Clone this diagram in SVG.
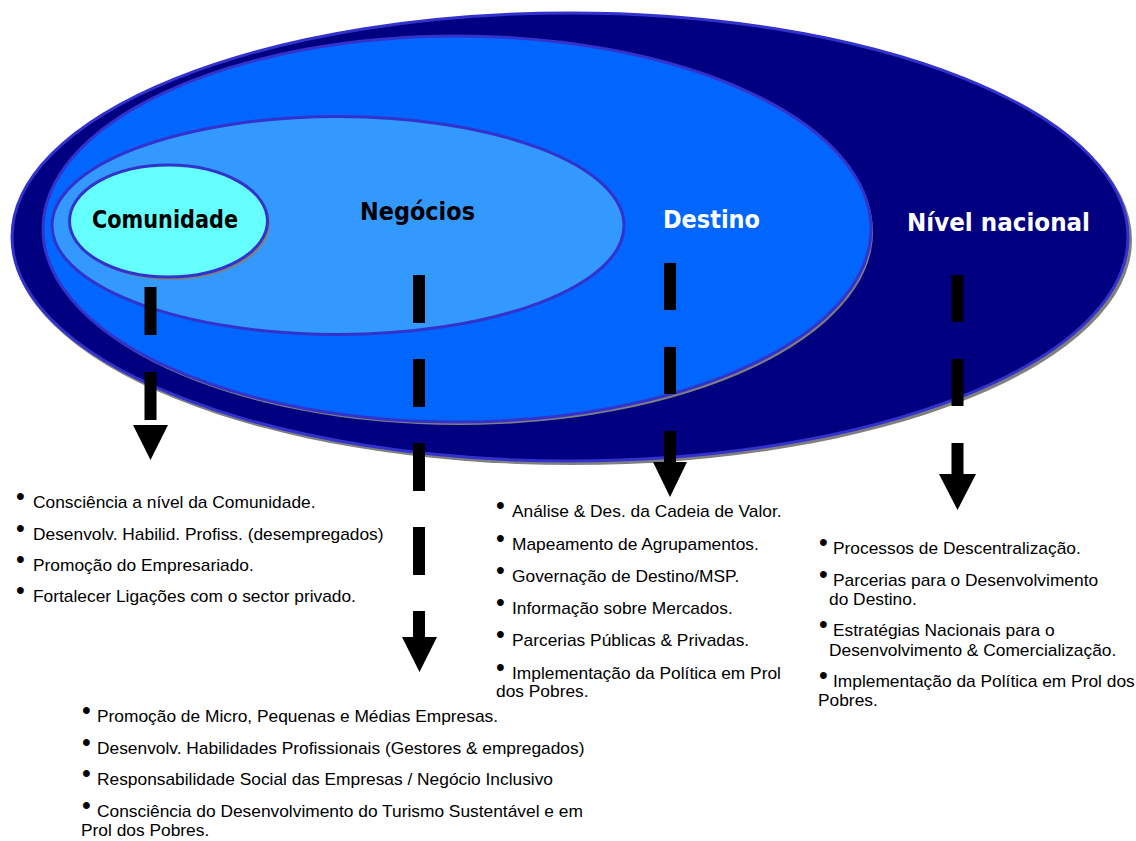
<svg xmlns="http://www.w3.org/2000/svg" width="1136" height="841" viewBox="0 0 1136 841">
<style>
.ell{stroke:#3333CC;stroke-width:3}
.sh{fill:#808080}
.lbl{font-family:"DejaVu Sans","Liberation Sans",sans-serif;font-weight:bold;font-size:25px}
.t{font-family:"Liberation Sans",Arial,sans-serif;font-size:17.35px;fill:#000}
.b{font-family:"Liberation Sans",Arial,sans-serif;font-size:25px;fill:#000}
.dash{stroke:#000;stroke-width:12;fill:none}
.head{fill:#000}
</style>
<rect width="1136" height="841" fill="#fff"/>
<g id="nivel-nacional">
<ellipse class="sh" cx="572" cy="240" rx="560" ry="225"/>
<ellipse class="ell" cx="570" cy="237" rx="558" ry="224" fill="#000080"/>
<text class="lbl" x="998.5" y="231" text-anchor="middle" fill="#fff" textLength="183" lengthAdjust="spacingAndGlyphs">Nível nacional</text>
</g>
<g id="destino">
<ellipse class="sh" cx="459" cy="232" rx="414" ry="193"/>
<ellipse class="ell" cx="457" cy="229" rx="414" ry="193" fill="#0066FF"/>
<text class="lbl" x="711.5" y="228" text-anchor="middle" fill="#fff" textLength="97" lengthAdjust="spacingAndGlyphs">Destino</text>
</g>
<g id="negocios">
<ellipse class="ell" cx="338" cy="225.5" rx="286" ry="109" fill="#3399FF"/>
<text class="lbl" x="417.5" y="220" text-anchor="middle" fill="#000" textLength="115" lengthAdjust="spacingAndGlyphs">Negócios</text>
</g>
<g id="comunidade">
<ellipse class="sh" cx="171" cy="224" rx="99" ry="56"/>
<ellipse class="ell" cx="168.5" cy="221" rx="99" ry="56" fill="#66FFFF"/>
<text class="lbl" x="165" y="228" text-anchor="middle" fill="#000" textLength="146" lengthAdjust="spacingAndGlyphs">Comunidade</text>
</g>
<g id="connectors">
<line class="dash" x1="150.5" y1="287" x2="150.5" y2="420" stroke-dasharray="48 37"/>
<polygon class="head" points="133,425 168,425 150.5,460"/>
<line class="dash" x1="419" y1="275" x2="419" y2="637" stroke-dasharray="48 36"/>
<polygon class="head" points="402,637 437,637 419.5,672"/>
<line class="dash" x1="670" y1="263" x2="670" y2="463" stroke-dasharray="47 37"/>
<polygon class="head" points="653,462 687,462 670,497"/>
<line class="dash" x1="957.5" y1="275" x2="957.5" y2="475" stroke-dasharray="47 37"/>
<polygon class="head" points="939,474 976,474 957.5,510"/>
</g>
<g id="list-comunidade">
<text class="b" x="16" y="505">•</text><text class="t" x="33" y="508">Consciência a nível da Comunidade.</text>
<text class="b" x="16" y="537">•</text><text class="t" x="33" y="540">Desenvolv. Habilid. Profiss. (desempregados)</text>
<text class="b" x="16" y="568">•</text><text class="t" x="33" y="571">Promoção do Empresariado.</text>
<text class="b" x="16" y="599">•</text><text class="t" x="33" y="602">Fortalecer Ligações com o sector privado.</text>
</g>
<g id="list-negocios">
<text class="b" x="82" y="719">•</text><text class="t" x="97" y="722">Promoção de Micro, Pequenas e Médias Empresas.</text>
<text class="b" x="82" y="751">•</text><text class="t" x="97" y="754">Desenvolv. Habilidades Profissionais (Gestores &amp; empregados)</text>
<text class="b" x="82" y="782">•</text><text class="t" x="97" y="785">Responsabilidade Social das Empresas / Negócio Inclusivo</text>
<text class="b" x="82" y="814">•</text><text class="t" x="97" y="817">Consciência do Desenvolvimento do Turismo Sustentável e em</text>
<text class="t" x="81" y="836">Prol dos Pobres.</text>
</g>
<g id="list-destino">
<text class="b" x="496" y="514">•</text><text class="t" x="512" y="517">Análise &amp; Des. da Cadeia de Valor.</text>
<text class="b" x="496" y="547">•</text><text class="t" x="512" y="550">Mapeamento de Agrupamentos.</text>
<text class="b" x="496" y="579">•</text><text class="t" x="512" y="582">Governação de Destino/MSP.</text>
<text class="b" x="496" y="611">•</text><text class="t" x="512" y="614">Informação sobre Mercados.</text>
<text class="b" x="496" y="643">•</text><text class="t" x="512" y="646">Parcerias Públicas &amp; Privadas.</text>
<text class="b" x="496" y="676">•</text><text class="t" x="512" y="679">Implementação da Política em Prol</text>
<text class="t" x="496" y="697">dos Pobres.</text>
</g>
<g id="list-nivel">
<text class="b" x="819" y="551">•</text><text class="t" x="833" y="554">Processos de Descentralização.</text>
<text class="b" x="819" y="583">•</text><text class="t" x="833" y="586">Parcerias para o Desenvolvimento</text>
<text class="t" x="829" y="605">do Destino.</text>
<text class="b" x="819" y="633">•</text><text class="t" x="833" y="636">Estratégias Nacionais para o</text>
<text class="t" x="829" y="656">Desenvolvimento &amp; Comercialização.</text>
<text class="b" x="819" y="684">•</text><text class="t" x="833" y="687">Implementação da Política em Prol dos</text>
<text class="t" x="818" y="706">Pobres.</text>
</g>
</svg>
